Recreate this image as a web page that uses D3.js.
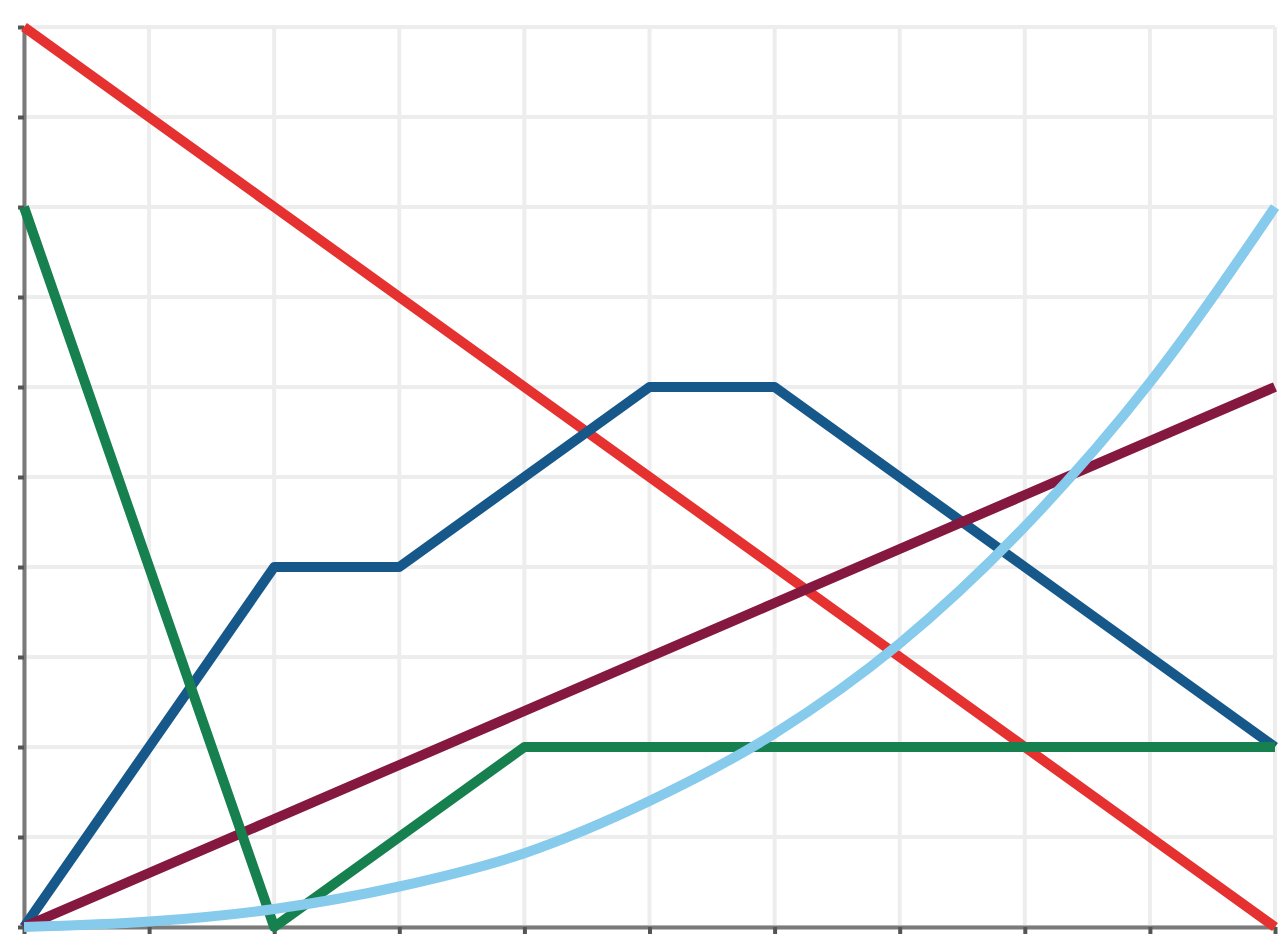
<!DOCTYPE html>
<html>
<head>
<meta charset="utf-8">
<script src="https://cdn.jsdelivr.net/npm/d3@7"></script>
<style>
    html, body { margin: 0; padding: 0; background: #fff; }
    svg { display: block; }
    .grid line { stroke: #ededed; stroke-width: 4; }
    .axis path, .axis line { stroke: #7a7a7a; stroke-width: 4; }
    .axis .tick line { stroke: #555; }
    .series { fill: none; stroke-width: 10; stroke-linejoin: round; stroke-linecap: butt; }
</style>
</head>
<body>
<script>
'use strict';

// x positions shared by every series
var xValues = [0, 1, 2, 3, 4, 5, 6, 7, 8, 9, 10];
var gridTicks = [0, 1, 2, 3, 4, 5, 6, 7, 8, 9, 10];

// series values
var redValues       = [10, 9, 8, 7, 6, 5, 4, 3, 2, 1, 0];
var blueValues      = [0, 2, 4, 4, 5, 6, 6, 5, 4, 3, 2];
var maroonValues    = [0, 0.6, 1.2, 1.8, 2.4, 3, 3.6, 4.2, 4.8, 5.4, 6];
var greenValues     = [8, 4, 0, 1, 2, 2, 2, 2, 2, 2, 2];
var lightBlueValues = [0, 0.06, 0.2, 0.45, 0.82, 1.4, 2.15, 3.15, 4.45, 6.05, 8];

var width = 1283,
    height = 937,
    margin = {top: 27, right: 8, bottom: 10, left: 24};

var svg = d3.select('body').append('svg')
    .attr('width', width)
    .attr('height', height);

var x = d3.scaleLinear().domain([0, 10]).range([margin.left, width - margin.right]);
var y = d3.scaleLinear().domain([0, 10]).range([height - margin.bottom, margin.top]);

// light grid
var grid = svg.append('g').attr('class', 'grid');
grid.selectAll('line.v').data(gridTicks).enter().append('line')
    .attr('class', 'v')
    .attr('x1', function (d) { return x(d); })
    .attr('x2', function (d) { return x(d); })
    .attr('y1', y(0))
    .attr('y2', y(10));
grid.selectAll('line.h').data(gridTicks).enter().append('line')
    .attr('class', 'h')
    .attr('x1', x(0))
    .attr('x2', x(10))
    .attr('y1', function (d) { return y(d); })
    .attr('y2', function (d) { return y(d); });

// axes, no labels
svg.append('g')
    .attr('class', 'axis')
    .attr('transform', 'translate(' + x(0) + ',0)')
    .call(d3.axisLeft(y).tickValues(gridTicks).tickSize(6).tickSizeOuter(0).tickFormat(''));
svg.append('g')
    .attr('class', 'axis')
    .attr('transform', 'translate(0,' + y(0) + ')')
    .call(d3.axisBottom(x).tickValues(gridTicks).tickSize(7).tickSizeOuter(0).tickFormat(''));

function drawSeries(values, color, curve) {
    var line = d3.line()
        .x(function (d, i) { return x(xValues[i]); })
        .y(function (d) { return y(d); })
        .curve(curve || d3.curveLinear);

    svg.append('path')
        .datum(values)
        .attr('class', 'series')
        .attr('stroke', color)
        .attr('d', line);
}

drawSeries(redValues, '#e5312f');
drawSeries(blueValues, '#17588b');
drawSeries(maroonValues, '#84183f');
drawSeries(greenValues, '#17804f');
drawSeries(lightBlueValues, '#86caec', d3.curveMonotoneX);
</script>
</body>
</html>
